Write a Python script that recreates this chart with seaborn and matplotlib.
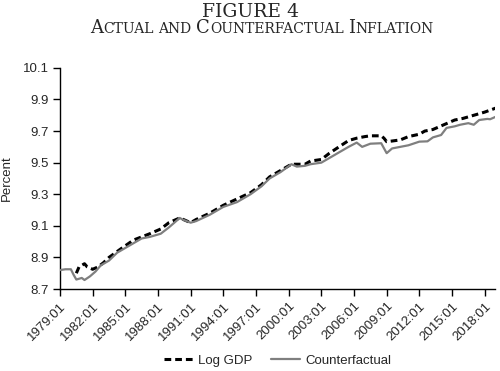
import numpy as np
import pandas as pd
import matplotlib
matplotlib.use("Agg")
import matplotlib.pyplot as plt
import seaborn as sns

# counterfactual path (grey line)
cf_year = [1979.0, 1979.5, 1980.0, 1980.25, 1980.5, 1980.75, 1981.0, 1981.25, 1981.75, 1982.25,
           1982.75, 1983.5, 1984.25, 1985.0, 1986.0, 1986.5, 1987.25, 1988.25, 1989.0, 1990.0,
           1990.25, 1991.0, 1991.5, 1992.75, 1994.0, 1995.25, 1996.5, 1997.5, 1998.25, 1999.25,
           2000.25, 2000.75, 2001.5, 2002.0, 2003.0, 2003.75, 2004.75, 2005.5, 2006.25, 2006.75,
           2007.5, 2008.5, 2009.0, 2009.5, 2010.25, 2011.0, 2012.0, 2012.75, 2013.25, 2014.0,
           2014.5, 2015.25, 2015.75, 2016.5, 2017.0, 2017.5, 2018.25, 2018.5, 2019.0]
cf_value = [8.82, 8.825, 8.825, 8.79, 8.76, 8.765, 8.77, 8.757, 8.78, 8.81,
            8.85, 8.88, 8.93, 8.96, 9.00, 9.02, 9.03, 9.05, 9.09, 9.15,
            9.14, 9.12, 9.13, 9.17, 9.22, 9.25, 9.30, 9.35, 9.40, 9.44,
            9.49, 9.475, 9.48, 9.49, 9.50, 9.53, 9.57, 9.60, 9.627, 9.60,
            9.62, 9.623, 9.56, 9.59, 9.60, 9.61, 9.633, 9.635, 9.66, 9.675,
            9.72, 9.73, 9.74, 9.75, 9.74, 9.77, 9.777, 9.775, 9.79]

# log GDP (black dashed)
gdp_year = [1980.5, 1980.75, 1981.25, 1981.5, 1982.0, 1982.5, 1983.0, 1983.5, 1984.5, 1985.75,
            1987.25, 1988.25, 1989.0, 1990.0, 1991.0, 1991.5, 1992.75, 1994.0, 1995.25, 1996.5,
            1997.5, 1998.25, 1999.25, 2000.25, 2000.75, 2001.5, 2002.0, 2003.0, 2003.75, 2004.75,
            2005.5, 2006.25, 2007.0, 2007.5, 2008.5, 2008.75, 2009.0, 2009.5, 2010.25, 2011.0,
            2012.0, 2012.5, 2013.25, 2014.25, 2015.25, 2016.0, 2017.0, 2018.0, 2019.0]
gdp_value = [8.80, 8.84, 8.86, 8.84, 8.825, 8.84, 8.867, 8.90, 8.95, 9.01,
             9.05, 9.08, 9.12, 9.15, 9.12, 9.14, 9.18, 9.23, 9.27, 9.31,
             9.36, 9.41, 9.45, 9.49, 9.49, 9.49, 9.51, 9.52, 9.56, 9.606,
             9.64, 9.655, 9.665, 9.67, 9.67, 9.655, 9.633, 9.637, 9.644, 9.665,
             9.68, 9.70, 9.71, 9.74, 9.77, 9.78, 9.80, 9.82, 9.845]

tick_years = list(range(1979, 2019, 3))
tick_labels = [f"{y}:01" for y in tick_years]
y_ticks = [8.7, 8.9, 9.1, 9.3, 9.5, 9.7, 9.9, 10.1]

sns.set_style("ticks")
plt.rcParams["font.family"] = ["Liberation Sans", "DejaVu Sans"]

fig = plt.figure(figsize=(5, 3.71), dpi=100)
ax = fig.add_axes([0.12, 0.221, 0.87, 0.596])

sns.lineplot(x=gdp_year, y=gdp_value, ax=ax, color="black", lw=2.2,
             label="Log GDP", zorder=2)
ax.lines[-1].set_dashes((2.2, 1.3))
sns.lineplot(x=cf_year, y=cf_value, ax=ax, color="#7f7f7f", lw=1.6,
             label="Counterfactual", zorder=3)

fs = 9.5
ax.set_xlim(1979, 2018.95)
ax.set_ylim(8.7, 10.1)
ax.set_xticks(tick_years)
ax.set_xticklabels(tick_labels, rotation=45, ha="right", rotation_mode="anchor", fontsize=fs)
ax.set_yticks(y_ticks)
ax.set_yticklabels([f"{v:.1f}" for v in y_ticks], fontsize=fs)
ax.tick_params(length=5, width=1, color="black", pad=3)
ax.set_xlabel("")
ax.set_ylabel("Percent", fontsize=fs, labelpad=7)
for s in ["left", "bottom"]:
    ax.spines[s].set_linewidth(1.0)
    ax.spines[s].set_color("black")
sns.despine(ax=ax)

ax.legend(loc="center", bbox_to_anchor=(0.5, -0.325), ncol=2, frameon=False,
          fontsize=fs, handlelength=2.2, columnspacing=1.4, handletextpad=0.4)

# title block: plain first line, small caps second line
serif = ["DejaVu Serif"]
fig.text(0.5, 1 - 17 / 371, "FIGURE 4", ha="center", va="baseline",
         fontsize=13.5, family=serif)


def small_caps(text, xc, y, big, small):
    renderer = fig.canvas.get_renderer()
    parts = []
    for w in text.split():
        if w[0].isupper():
            parts.append((w[0], big))
            parts.append((w[1:].upper(), small))
        else:
            parts.append((w.upper(), small))
        parts.append(None)
    parts = parts[:-1]
    gap = big * 0.35
    items = []
    total = 0
    for p in parts:
        if p is None:
            total += gap
            continue
        t = fig.text(0, y, p[0], fontsize=p[1], family=serif, va="baseline")
        w = t.get_window_extent(renderer).width
        items.append((t, total))
        total += w
    x0 = xc - total / 2
    for t, off in items:
        t.set_x((x0 + off) / fig.bbox.width)


small_caps("Actual and Counterfactual Inflation", 262, 1 - 33 / 371, 13, 10)

fig.savefig("out.png", dpi=100)
